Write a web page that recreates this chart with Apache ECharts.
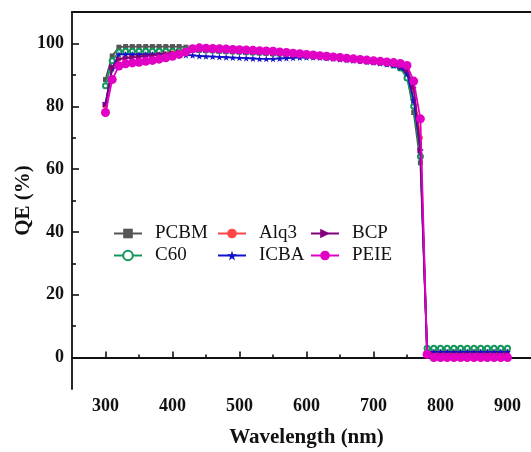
<!DOCTYPE html>
<html><head><meta charset="utf-8">
<script src="https://cdn.jsdelivr.net/npm/echarts@6/dist/echarts.min.js"></script>
<style>html,body{margin:0;padding:0;background:#fff}#c{width:531px;height:452px}</style>
</head><body><div id="c"></div>
<script>
const wavelength = [300,310,320,330,340,350,360,370,380,390,400,410,420,430,440,450,460,470,480,490,500,510,520,530,540,550,560,570,580,590,600,610,620,630,640,650,660,670,680,690,700,710,720,730,740,750,760,770,780,790,800,810,820,830,840,850,860,870,880,890,900];

const PCBM = [88.5,96,98.8,99,99,99,99,99,99,99,99,99,98.8,98.5,98.3,98.2,98,98,97.8,97.7,97.5,97.4,97.3,97.2,97.1,97,96.9,96.7,96.5,96.4,96.2,96.1,95.9,95.7,95.6,95.4,95.2,95,94.8,94.5,94.3,94,93.7,93.2,92.5,90,78,62,2.5,2.5,2.5,2.5,2.5,2.5,2.5,2.5,2.5,2.5,2.5,2.5,2.5];
const C60 = [86.5,94.5,97.3,97.5,97.5,97.5,97.5,97.5,97.5,97.5,97.5,97.6,97.8,98,98,97.9,97.8,97.7,97.6,97.5,97.4,97.3,97.2,97.1,97,96.9,96.8,96.6,96.4,96.3,96.1,96,95.8,95.6,95.5,95.3,95.1,94.9,94.7,94.4,94.2,93.9,93.6,93.1,92.2,89,80,64,3,3,3,3,3,3,3,3,3,3,3,3,3];
const Alq3 = [80,92,95,95.5,95.8,96,96.2,96.3,96.5,96.7,97,97.3,97.6,97.9,98,98,97.9,97.8,97.7,97.6,97.5,97.4,97.3,97.2,97.1,97,96.9,96.7,96.5,96.4,96.2,96.1,95.9,95.7,95.6,95.4,95.2,95,94.8,94.6,94.4,94.1,93.8,93.4,92.8,91,85,70,1.5,1.5,1.5,1.5,1.5,1.5,1.5,1.5,1.5,1.5,1.5,1.5,1.5];
const ICBA = [81,92,96.5,96.5,96.5,96.5,96.5,96.5,96.5,96.5,96.5,96.5,96.3,96.2,96,95.9,95.8,95.7,95.6,95.5,95.4,95.3,95.2,95.1,95.1,95.1,95.2,95.3,95.4,95.5,95.6,95.6,95.5,95.4,95.2,95,94.8,94.6,94.4,94.2,94,93.7,93.4,93,92.3,90.5,82,66,1.8,1.8,1.8,1.8,1.8,1.8,1.8,1.8,1.8,1.8,1.8,1.8,1.8];
const BCP = [80.5,92.5,95,95.3,95.5,95.7,96,96.2,96.4,96.6,96.9,97.2,97.5,97.8,97.9,97.9,97.8,97.7,97.6,97.5,97.4,97.3,97.2,97.1,97,96.9,96.8,96.6,96.4,96.3,96.1,96,95.8,95.6,95.5,95.3,95.1,94.9,94.7,94.5,94.3,94,93.7,93.3,92.7,91.5,86,66,1,1,1,1,1,1,1,1,1,1,1,1,1];
const PEIE = [78,88.5,92.8,93.5,93.8,94,94.3,94.6,95,95.4,95.9,96.5,97.3,98.3,98.6,98.5,98.4,98.3,98.2,98.1,98,97.9,97.8,97.7,97.6,97.5,97.3,97.1,96.9,96.7,96.5,96.3,96.1,95.9,95.7,95.5,95.3,95.1,94.9,94.7,94.5,94.3,94.1,93.9,93.6,93,88,76,1,0,0,0,0,0,0,0,0,0,0,0,0];

const xMajorTicks = [300,400,500,600,700,800,900];
const xMinorTicks = [350,450,550,650,750,850];
const yMajorTicks = [0,20,40,60,80,100];
const yMinorTicks = [10,30,50,70,90];

const seriesNames = ['PCBM','C60','Alq3','ICBA','BCP','PEIE'];
const seriesValues = [PCBM, C60, Alq3, ICBA, BCP, PEIE];
const colors = ['#555555','#14975c','#ff4545','#1212cc','#82007e','#e200c4'];
const symbols = ['rect','emptyCircle','circle','path://M0,-10 L2.35,-3.24 L9.51,-3.09 L3.8,1.24 L5.88,8.09 L0,4 L-5.88,8.09 L-3.8,1.24 L-9.51,-3.09 L-2.35,-3.24 Z','triangle','circle'];
const symbolSizes = [5,5,5,7,6,9];
const symbolRotates = [0,0,0,0,-90,0];

const FONT = 'Liberation Serif';
const chart = echarts.init(document.getElementById('c'));

const series = seriesNames.map((n,i)=>({
  name:n, type:'line', xAxisIndex:0, yAxisIndex:0,
  data: wavelength.map((w,j)=>[w, seriesValues[i][j]]),
  symbol: symbols[i], symbolSize: symbolSizes[i], symbolRotate: symbolRotates[i],
  showAllSymbol:true,
  lineStyle:{color:colors[i], width:1.8},
  itemStyle:{color:colors[i], borderColor:colors[i], borderWidth: i===1?1.6:0},
  emphasis:{disabled:true},
  animation:false, z: 2+i
}));

function legendCol(names, left){
  return {
    data:names, orient:'vertical', left:left, top:219, itemGap:3,
    itemWidth:28, itemHeight:12,
    textStyle:{fontFamily:FONT, fontSize:19, color:'#111', padding:[0,0,0,8]},
    selectedMode:false
  };
}

const axisLineStyle = {color:'#111', width:1.8};
chart.setOption({
  animation:false,
  legend:[legendCol(['PCBM','C60'],108), legendCol(['Alq3','ICBA'],212), legendCol(['BCP','PEIE'],305)],
  grid:{left:72, top:12, right:-10, bottom:63, containLabel:false, outerBoundsMode:'none'},
  xAxis:[
    {type:'value', min:250, max:950, position:'bottom',
     axisLine:{show:true, lineStyle:axisLineStyle},
     axisTick:{show:true, inside:true, length:6, customValues:xMajorTicks, lineStyle:{color:'#111', width:1.6}},
     axisLabel:{customValues:xMajorTicks, fontFamily:FONT, fontWeight:'bold', fontSize:18, color:'#111', margin:8},
     splitLine:{show:false},
     name:'Wavelength (nm)', nameLocation:'middle', nameGap:38,
     nameTextStyle:{fontFamily:FONT, fontWeight:'bold', fontSize:21, color:'#111'}},
    {type:'value', min:250, max:950, position:'bottom',
     axisLine:{show:false},
     axisTick:{show:true, inside:true, length:3, customValues:xMinorTicks, lineStyle:{color:'#111', width:1.6}},
     axisLabel:{show:false}, splitLine:{show:false}},
    {type:'value', min:250, max:950, position:'top',
     axisLine:{show:true, lineStyle:axisLineStyle},
     axisTick:{show:false}, axisLabel:{show:false}, splitLine:{show:false}}
  ],
  yAxis:[
    {type:'value', min:-10, max:110, position:'left',
     axisLine:{show:true, lineStyle:axisLineStyle},
     axisTick:{show:true, inside:true, length:7, customValues:yMajorTicks, lineStyle:{color:'#111', width:1.6}},
     axisLabel:{customValues:yMajorTicks, fontFamily:FONT, fontWeight:'bold', fontSize:18, color:'#111', margin:8},
     splitLine:{show:false},
     name:'QE (%)', nameLocation:'middle', nameGap:38, nameRotate:90, nameMoveOverlap:false,
     nameTextStyle:{fontFamily:FONT, fontWeight:'bold', fontSize:21, color:'#111'}},
    {type:'value', min:-10, max:110, position:'left',
     axisLine:{show:false},
     axisTick:{show:true, inside:true, length:4, customValues:yMinorTicks, lineStyle:{color:'#111', width:1.6}},
     axisLabel:{show:false}, splitLine:{show:false}}
  ],
  series: series
});
</script></body></html>
